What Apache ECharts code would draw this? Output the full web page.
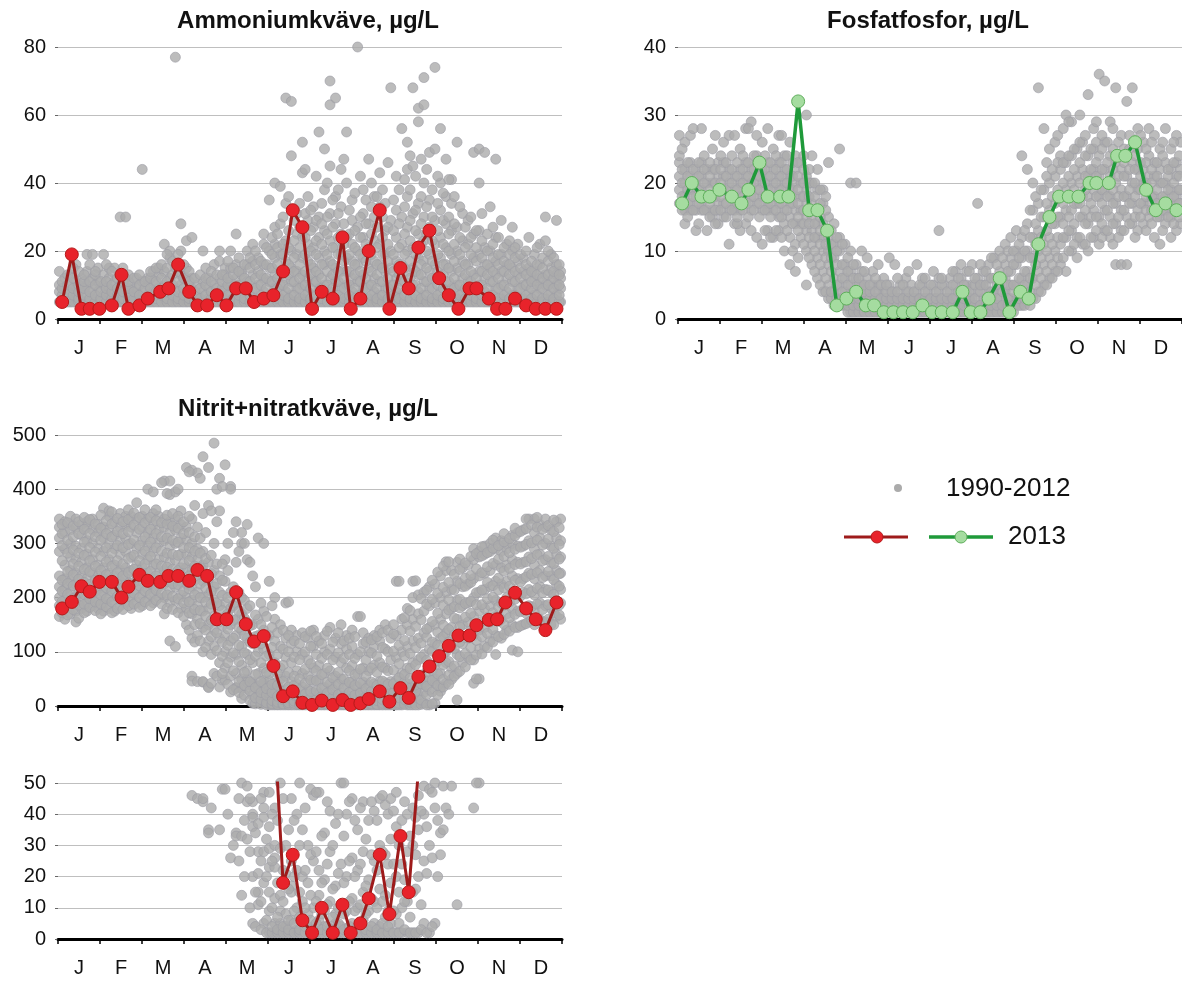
<!DOCTYPE html>
<html>
<head>
<meta charset="utf-8">
<script src="https://cdn.jsdelivr.net/npm/echarts@6/dist/echarts.min.js"></script>
<style>html,body{margin:0;padding:0;background:#fff}#c{width:1182px;height:982px}</style>
</head>
<body>
<div id="c"></div>
<script>
const monthLabels = ['J','F','M','A','M','J','J','A','S','O','N','D'];
const yTicksAmmonium = [0, 80, 20];
const yTicksFosfat = [0, 40, 10];
const yTicksNitrat = [0, 500, 100];
const yTicksNitratLow = [0, 50, 10];

const dates2013 = [3,10,17,23,30,39,46,51,59,65,74,80,87,95,101,108,115,122,129,136,142,149,156,163,170,177,184,191,199,206,212,219,225,233,240,248,254,261,269,276,283,290,298,303,312,318,324,331,339,346,353,361];
const ammonium2013 = [5,19,3,3,3,4,13,3,4,6,8,9,16,8,4,4,7,4,9,9,5,6,7,14,32,27,3,8,6,24,3,6,20,32,3,15,9,21,26,12,7,3,9,9,6,3,3,6,4,3,3,3];
const fosfat2013 = [17,20,18,18,19,18,17,19,23,18,18,18,32,16,16,13,2,3,4,2,2,1,1,1,1,2,1,1,1,4,1,1,3,6,1,4,3,11,15,18,18,18,20,20,20,24,24,26,19,16,17,16];
const nitrat2013 = [180,192,221,211,229,229,200,220,242,231,229,240,240,231,251,240,160,160,210,151,119,129,74,18,27,6,2,10,2,11,2,5,13,27,8,33,15,54,73,92,111,130,130,149,159,160,191,209,180,160,140,191];

// 1990-2012 samples: [day, values...]
const ammoniumHist = [
[1,5,8,10,14],[5,5,6,9,12],[9,5,7,10,13],[13,5,6,8,11,16],[17,5,9,12],[21,5,7,10,14,19],[25,5,6,9,12,19],[29,5,8,11,15],
[33,5,7,10,13,19],[37,5,6,9,12,15],[41,5,8,11,15],[45,5,7,10,13,30],[49,5,6,9,12,30],[53,5,8,10],[57,5,7,9,12],
[61,5,6,8,11,44],[65,5,7,10,12],[69,5,8,11,14],[73,5,6,9,13,15],[77,5,7,10,14,22],[81,5,8,12,18,20],[85,5,6,9,15,77],[89,5,7,10,13,28,20],
[93,5,8,12,15,23],[97,5,6,9,12,24],[101,5,7,10],[105,5,8,11,20],[109,5,6,9,12],[113,5,7,10,16],[117,5,8,12,20,17],
[121,5,6,9,13,15],[125,5,7,11,15,20],[129,5,8,12,16,25],[133,5,6,10,14,13],[137,5,7,11,16,20],[141,5,9,13,17,22],[145,5,6,10,14,18],[149,5,8,12,16,22,25],
[153,5,7,11,15,20,35],[157,5,9,13,18,22,27,40],[161,5,6,10,14,19,28,39],[165,5,8,12,17,23,34,65],[169,5,7,11,15,20,48,64],[173,5,9,14,19,25,31],[177,5,6,10,13,18,24,43,52],
[181,5,8,12,17,22,29,36],[185,5,7,11,15,21,27,33],[189,5,9,13,18,24,30,55],[193,5,6,10,16,20,26,50,38],[197,5,8,12,17,23,31,45,63,70],[201,5,7,11,15,21,28,36,65],[205,5,9,14,19,25,33,44],[209,5,6,10,14,18,24,40,55],
[213,5,8,12,17,22,29,35],[217,5,7,11,16,20,27,80],[221,5,9,13,18,24,31,38],[225,5,6,10,15,21,28,47],[229,5,8,12,17,23,30,36],[233,5,7,11,16,22,33,43],[237,5,9,14,19,26,34],[241,5,6,10,15,20,29,68],
[245,5,8,12,17,24,32,42],[249,5,7,11,16,22,30,56],[253,5,9,14,20,27,36,44,52],[257,5,6,10,15,21,31,45,68],[261,5,8,13,18,25,34,58,62],[265,5,7,11,17,23,30,40,63,71],[269,5,9,14,19,27,35,49],[273,5,6,12,16,22,29,74,50],
[277,5,8,13,18,24,32,40,56],[281,5,7,11,16,21,28,36,47],[285,5,9,14,19,26,34,41],[289,5,6,10,15,20,27,52],[293,5,8,12,17,23,31],[297,5,7,11,16,22,29],[301,5,9,13,18,25,49],
[305,5,6,10,14,19,26,40,50],[309,5,8,12,16,21,49],[313,5,7,11,15,20,33],[317,5,9,13,17,24,47],[321,5,6,10,14,19,29],[325,5,8,12,16,22],[329,5,7,11,15,20,27],[333,5,9,13,17,22],
[337,5,6,10,14,18],[341,5,8,12,15,24],[345,5,7,11,14,19],[349,5,9,12,16,22],[353,5,6,10,13,30,23],[357,5,8,11,15,19],[361,5,7,10,13,16,29],[364,5,9,12,14]
];
const ammoniumHistB = [
[3,5,7,9,11],[7,5,6,8,10,13],[11,5,7,9,12,15],[15,5,6,8,10,14],[19,5,7,9,11,13],[23,5,6,8,11,16],[27,5,7,10,13,14],[31,5,6,8,11],
[35,5,7,9,11,16],[39,5,6,8,10,14],[43,5,7,9,12],[47,5,6,8,11,15],[51,5,7,9,11,13],[55,5,6,8,12],[59,5,7,10,13],
[63,5,6,9,11],[67,5,7,9,12,14],[71,5,6,8,11,15],[75,5,7,9,12,16],[79,5,6,8,11,15,19],[83,5,7,10,13,17],[87,5,6,8,11,14,19],[91,5,7,9,12,16],
[95,5,6,9,11,14],[99,5,7,8,12],[103,5,6,9,13],[107,5,7,10,12,15],[111,5,6,8,11,14],[115,5,7,9,13],[119,5,6,9,11,13],
[123,5,7,10,12,17],[127,5,6,9,13,15],[131,5,7,10,14,18],[135,5,6,9,12,16],[139,5,7,11,15,18],[143,5,6,9,12,16,20],[147,5,7,10,13,17],[151,5,6,9,12,16,21],
[155,5,7,11,15,19,24],[159,5,6,9,12,16,21,25],[163,5,7,10,14,19,22,30],[167,5,6,9,13,16,21,26,36],[171,5,7,11,14,18,23,29],[175,5,6,9,12,16,21,27,34],[179,5,7,10,14,19,24,31,44],
[183,5,6,9,13,16,20,26,32],[187,5,7,11,14,19,23,29,42],[191,5,6,9,12,16,22,28,34],[195,5,7,10,14,19,25,30,40],[199,5,6,9,13,16,21,27,35],[203,5,7,11,14,19,24,31,38],[207,5,6,9,12,17,22,28,47],[211,5,7,10,14,19,25,32],
[215,5,6,9,13,16,21,26,37],[219,5,7,11,14,19,24,30,42],[223,5,6,9,12,17,22,28,35],[227,5,7,10,14,19,25,33,40],[231,5,6,9,13,16,21,27,36],[235,5,7,11,15,19,24,30,38],[239,5,6,9,12,17,22,27,46],
[243,5,7,10,14,19,26,35],[247,5,6,9,13,16,21,28,38],[251,5,7,11,15,19,25,33,41],[255,5,6,9,12,17,23,29,38,48],[259,5,7,10,14,19,26,32,42],[263,5,6,9,13,16,22,28,36,47],[267,5,7,11,15,20,25,33,44],[271,5,6,9,12,17,23,30,38],
[275,5,7,10,14,19,26,34,42],[279,5,6,9,13,16,22,29,37],[283,5,7,11,15,20,25,30,41],[287,5,6,9,12,17,22,28,36],[291,5,7,10,14,19,24,33],[295,5,6,9,13,16,21,27],[299,5,7,11,14,19,24,30],[303,5,6,9,12,17,21,26],
[307,5,7,10,14,18,23,31],[311,5,6,9,13,16,20,25],[315,5,7,11,14,18,22,27],[319,5,6,9,12,16,19,24],[323,5,7,10,14,17,21],[327,5,6,9,13,16,19,23],[331,5,7,11,14,18,21],
[335,5,6,9,12,15,19],[339,5,7,10,13,16,20],[343,5,6,9,11,14,17],[347,5,7,10,13,16,21],[351,5,6,9,12,15,18],[355,5,7,10,13,17,20],[359,5,6,9,12,14,18],[363,5,7,10,13,16]
];
const fosfatHist = [
[1,17,19,21,23,24,27],[5,16,18,20,22,26,14],[9,16,17,19,21,23,27],[13,13,16,18,20,22],[17,16,17,19,21,23,28],[21,13,16,18,20,22],[25,15,16,18,20,22,25],[29,14,16,17,19,21,23],
[33,15,17,19,21,23,26],[37,11,16,18,20,22,27],[41,14,16,17,19,21,27],[45,13,16,18,20,22,25],[49,14,17,19,21,23,28],[53,13,16,18,20,22,29],[57,12,17,19,21,23,24,27],
[61,11,16,18,20,22,26],[65,13,16,17,19,21,23,28],[69,12,16,18,20,22,25],[73,13,15,17,19,21,23,27],[77,10,14,16,18,20,22,24],[81,8,12,15,17,19,21,26],[85,7,11,14,16,18,20,22,24],[89,12,14,16,18,20,23],
[93,5,10,13,15,17,19,21,30],[97,8,11,13,15,17,20,24],[101,6,9,12,14,16,19,22],[105,4,7,10,12,14,17,19],[109,3,5,8,10,12,15,23],[113,2,4,6,9,11,14],[117,2,3,5,7,10,12,25],
[121,2,3,4,6,8,11],[125,1,2,3,5,7,10,20],[129,1,2,4,6,8,20],[133,1,2,3,5,7,10],[137,1,2,3,4,6,9],[141,1,2,3,5,7],[145,1,2,3,4,5,8],[149,1,2,3,4,6],
[153,1,2,3,5,9],[157,1,2,3,4,8],[161,1,2,3,5],[165,1,2,3,4,6],[169,1,2,3,5],[173,1,2,3,4,8],[177,1,2,3,5,6],
[181,1,2,3,4],[185,1,2,3,5,7],[189,1,2,4,6,13],[193,1,2,3,5],[197,1,2,3,4,6],[201,1,2,3,5,7],[205,1,2,3,6,8],[209,1,2,4,5,7],
[213,1,2,3,5,8],[217,1,2,4,6,17],[221,1,2,3,5,7],[225,1,2,3,4,6,8],[229,1,2,4,6,9],[233,1,2,3,5,7,10],[237,1,2,4,6,8,11],[241,2,3,5,7,9,12],
[245,2,3,5,8,10,13],[249,2,4,6,9,12,24],[253,3,5,7,10,14,22],[257,3,6,9,12,16,20],[261,4,7,10,13,17,34],[265,5,8,11,15,19,28],[269,6,9,12,16,20,25],[273,7,10,14,17,21,26],
[277,8,11,15,18,22,24],[281,7,12,16,19,23,30],[285,10,13,16,20,24,29],[289,9,12,17,21,25],[293,11,15,18,22,26],[297,10,14,18,21,24,33],[301,12,16,19,22,25,28],
[305,11,15,18,21,24,36],[309,13,16,19,22,26,35],[313,12,15,18,21,24,29],[317,8,14,17,20,23,34],[321,8,13,16,19,22,27],[325,8,15,18,21,24,32],[329,14,17,20,23,34],[333,13,16,19,22,25,28],
[337,14,17,20,22,26],[341,15,17,19,21,24,28],[345,12,16,18,21,23,27],[349,11,15,17,20,22,25],[353,14,16,18,20,23,28],[357,12,15,17,19,22,25],[361,13,16,18,21,23,27],[364,14,17,19,22,26]
];
const fosfatHistB = [
[3,16,18,20,22,25],[7,15,17,19,21,23],[11,16,18,20,22,28],[15,14,17,19,21,23],[19,16,18,20,22,24],[23,15,17,19,21,23],[27,14,16,18,20,22,27],[31,16,18,20,22,24],
[35,15,17,19,21,23],[39,16,18,20,22,24],[43,14,15,17,19,21,23],[47,16,18,20,22,24],[51,15,17,19,21,23,28],[55,16,18,20,22,24],[59,15,17,19,21,23],
[63,13,16,18,20,22,24],[67,12,15,17,19,21,23],[71,13,16,18,20,22,24],[75,12,15,17,19,21,23,27],[79,13,16,18,20,22,24],[83,10,14,17,19,21,23],[87,9,13,15,17,19,21,23],[91,11,14,16,18,20,22,24],
[95,9,12,14,16,18,20,22],[99,7,10,12,14,16,18,20],[103,5,8,11,13,15,17,19],[107,4,6,9,11,13,16,18],[111,3,4,7,9,11,13],[115,2,3,5,8,10,12],[119,2,3,4,6,8,11],
[123,1,2,3,5,7,9],[127,1,2,3,4,6,8],[131,1,2,3,5,6],[135,1,2,3,4,5,7],[139,1,2,3,4,5],[143,1,2,3,4,6],[147,1,2,3,5],[151,1,2,3,4,5],
[155,1,2,3,4],[159,1,2,3,4,6],[163,1,2,3,5],[167,1,2,3,4,7],[171,1,2,3,4],[175,1,2,3,5],[179,1,2,3,4,6],
[183,1,2,3,5],[187,1,2,3,4],[191,1,2,3,5,6],[195,1,2,3,4],[199,1,2,3,5,7],[203,1,2,4,6],[207,1,2,3,5],[211,1,2,3,4,7],
[215,1,2,3,5,6],[219,1,2,4,5,8],[223,1,2,3,5,7],[227,1,2,3,4,6,9],[231,1,2,3,5,8],[235,1,2,4,6,9],[239,1,2,3,5,7,10],
[243,1,2,4,5,8,10],[247,2,3,4,6,9,11],[251,2,3,5,7,10,13],[255,2,4,6,9,12,16],[259,3,5,8,11,14,18],[263,4,6,9,12,15,19],[267,5,7,10,13,17,21,23],[271,6,8,11,14,18,22],
[275,7,9,12,15,19,23,27],[279,9,12,14,17,20,23,28],[283,10,13,15,18,21,24,29],[287,11,14,17,19,22,25],[291,12,15,17,20,23,26,30],[295,11,14,16,19,21,24,27],[299,12,15,17,20,22,25],[303,13,15,18,21,23,26,29],
[307,12,14,17,19,22,25,27],[311,13,16,18,20,23,26],[315,11,14,17,19,22,25,28],[319,12,15,18,21,24,26],[323,13,16,18,21,23,25],[327,14,17,19,22,25,27],[331,12,15,18,20,22,24],
[335,15,17,19,21,23,27],[339,13,16,18,20,23,25],[343,14,16,18,20,22,26],[347,15,17,19,21,23],[351,13,16,18,20,24,26],[355,15,17,19,21,22],[359,14,16,18,20,23,26],[363,15,17,19,21,24]
];
const nitratHist = [
[1,165,185,200,220,240,285,310,330,345],[5,160,180,195,215,235,260,290,320,340],[9,170,190,210,230,250,275,300,325,350],[13,155,175,200,225,245,270,295,330,345],[17,180,195,215,240,265,290,315,335],[21,175,190,210,235,255,280,305,330,340],[25,185,200,220,245,270,300,325,345],[29,180,195,215,240,260,290,320,335],
[33,175,190,210,235,255,285,310,330,365],[37,180,200,220,245,270,300,325,350,360],[41,175,195,215,240,260,290,315,340],[45,185,205,230,250,280,305,330,355],[49,190,210,235,255,285,310,335,350],[53,180,200,225,250,275,300,330,350],[57,190,215,240,260,290,320,345,375],
[61,185,205,230,255,280,305,330,350],[65,195,215,245,270,295,320,345,400],[69,190,210,235,260,285,310,335,355,395],[73,200,220,245,270,300,325,350],[77,170,200,225,250,275,305,330,345,415],[81,120,190,215,240,265,295,320,340,390,415],[85,110,195,220,245,270,300,325,345,395],[89,180,205,230,255,280,310,335,360],
[93,150,180,200,225,255,280,305,330,440],[97,55,125,170,195,220,250,275,300,345,435,46],[101,45,130,160,185,210,240,270,290,330,430],[105,44,100,145,175,200,230,260,285,355,460,45],[109,35,120,150,180,205,235,265,370,440,34],[113,60,110,140,165,195,220,250,300,485],[117,35,80,125,155,185,210,240,420,360],
[119,48],[121,48,70,100,130,165,190,230,270,445],[125,26,55,90,120,150,180,210,405,400],[129,34,60,95,130,160,190,265,340,33],[133,14,33,50,75,110,140,170,200,320,300],[137,49,32,65,95,125,155,180,335,270,44],[141,5,20,40,44,80,115,150,240,39,36],[145,11,21,37,60,100,130,160,310,28,15],[149,5,18,28,39,70,105,140,175,300,47,42],
[153,2,9,15,36,47,60,95,130,230,29,23],[157,2,5,13,23,42,80,120,160,200,30,26],[161,2,5,9,29,50,70,110,150,14],[165,2,4,8,30,55,90,125,190,21],[169,2,6,15,25,45,80,115,140,17],[173,2,3,10,22,40,65,100,130],[177,2,5,12,20,35,60,95,135],
[181,2,4,8,18,30,55,85,125],[185,2,3,10,25,46,70,110,140],[189,2,6,14,22,47,75,120],[193,2,4,9,19,34,60,100,130],[197,2,3,12,28,41,65,105,145],[201,2,5,8,17,37,55,90,125],[205,2,4,11,24,50,80,115,150],[209,2,3,9,20,40,70,105,130],
[213,2,5,13,26,45,75,110,140],[217,2,4,10,22,35,60,95,165],[221,2,6,15,28,44,70,115,135],[225,2,3,9,19,38,65,100,125],[229,2,5,12,25,41,75,110,130],[233,2,4,16,30,45,80,120,140],[237,2,7,14,27,43,70,105,150],[241,2,5,18,32,45,85,125],
[245,2,8,20,36,47,90,130,230],[249,2,10,24,38,60,100,140,160],[253,2,12,28,40,70,110,150,180],[257,2,15,30,42,80,120,160,200,230],[261,2,20,35,46,85,125,170,205],[265,5,25,40,49,95,135,175,210],[269,2,30,48,70,105,145,185,220],[273,5,42,50,75,115,150,190,225],
[277,27,34,60,90,125,160,200,240],[281,42,80,100,135,170,210,250,266],[285,49,70,110,145,180,215,250],[289,11,60,95,130,160,195,230,265],[293,80,115,150,185,220,255],[297,90,125,155,190,225,260],[301,42,85,130,165,200,235,270,290],
[305,50,105,140,175,210,240,275,285],[309,110,145,180,215,245,280,295],[313,120,155,185,220,250,285,300],[317,95,130,165,195,230,260,290,310],[321,125,160,190,225,255,285,305],[325,140,170,200,230,260,290,300],[329,103,150,180,210,240,270,300,315],[333,100,145,175,205,235,265,295,320],
[337,150,180,210,235,265,295,325],[341,155,185,215,245,275,305,345],[345,150,175,205,235,260,290,320,345],[349,160,190,220,250,280,310,335],[353,155,185,215,240,270,300,330,345],[357,150,180,210,240,265,295,325],[361,165,195,225,250,280,310,340],[364,160,190,215,245,275,305,345]
];
const nitratHistB = [
[3,172,193,212,232,268,296,318,335],[7,168,188,206,226,248,282,306,338],[11,178,198,222,242,262,288,312,332],[15,162,186,208,234,258,282,318,340],[19,172,188,206,228,252,278,302,326,348],[23,182,198,224,248,268,292,318,344],[27,176,192,212,232,258,284,312,336],[31,170,188,205,228,250,276,306,328,352],
[35,183,198,218,242,266,292,318,342],[39,172,192,212,232,258,282,312,336,358],[43,180,202,224,246,268,296,322,346],[47,178,196,218,240,262,292,318,340],[51,185,202,226,246,272,298,322,344,362],[55,188,208,228,252,278,306,334,356],[59,182,200,222,246,268,296,326,348],
[63,192,212,236,262,286,312,338,362],[67,185,206,226,248,276,302,326,348],[71,195,214,240,262,292,318,342,362],[75,188,208,232,258,286,312,338,412],[79,180,205,230,256,282,310,336,352,392],[83,178,202,226,252,280,306,332,355],[87,172,198,224,250,278,302,328,350,400],[91,165,190,212,238,262,292,318,340],
[95,140,172,192,216,240,268,292,320,350,432],[99,118,150,178,205,232,258,286,312,370],[103,120,152,176,200,225,255,282,310,420],[107,108,140,166,192,218,245,272,320],[111,42,95,128,158,188,212,244,278,360],[115,55,102,135,162,190,226,262,340,400],[119,60,92,118,148,176,204,232,262,405],
[123,40,80,112,142,170,200,250,300],[127,30,65,98,125,158,185,220,320],[131,25,45,82,112,145,175,210,285],[135,20,38,62,98,130,162,195,300],[139,10,28,45,85,118,148,185,265],[143,4,15,34,58,92,128,168,220],[147,3,12,25,45,80,115,150,190],
[151,2,6,20,32,62,92,128,165],[155,2,4,10,25,40,72,108,145,185],[159,2,3,7,18,38,60,95,135],[163,2,4,12,22,45,75,105,140],[167,2,3,6,16,35,62,100,130,192],[171,2,5,9,20,38,55,90,120],[175,2,3,7,15,30,50,85,115],[179,2,4,10,22,42,68,100,128],
[183,2,3,6,14,27,48,78,110,138],[187,2,5,12,28,47,65,95,128],[191,2,3,8,18,33,58,88,115],[195,2,4,11,24,44,70,95,138],[199,2,3,7,16,30,52,85,118],[203,2,5,10,21,40,62,98,135],[207,2,3,8,18,33,50,88,120],[211,2,4,12,25,44,65,95,125],
[215,2,3,9,20,38,58,88,128],[219,2,5,11,24,42,68,100,165],[223,2,3,8,17,32,55,85,118],[227,2,4,13,27,44,70,98,122],[231,2,3,10,22,38,62,92,128],[235,2,5,12,28,46,72,108,135],[239,2,4,9,24,40,65,100,140],
[243,2,9,24,41,66,101,133,150],[247,2,5,15,30,52,78,112,230],[251,3,12,19,44,58,92,121,163],[255,2,7,33,51,69,97,138,176],[259,2,16,27,39,76,108,147,231],[263,3,11,41,57,90,116,159,198],[267,2,21,36,63,84,127,142,188,214],[271,4,26,47,66,101,118,156,197,232],
[275,20,38,59,83,112,136,171,208,247],[279,35,49,76,96,128,149,186,219,258],[283,40,57,82,118,141,177,196,228,266],[287,55,74,106,131,162,183,214,243],[291,64,91,118,146,181,197,226,252,271],[295,72,97,126,164,189,221,236,264],[299,85,108,139,171,193,228,241,276],[303,50,94,121,148,187,209,253,281],
[307,96,128,156,187,214,246,277,294],[311,108,134,163,198,228,257,283],[315,118,141,172,201,222,263,291,306],[319,128,156,183,214,236,271,296],[323,132,151,186,218,249,276,303,318],[327,138,163,192,221,254,283,309],[331,145,169,197,232,261,289,314,328],
[335,148,174,203,229,262,293,322],[339,152,171,207,238,266,298,327,345],[343,158,183,211,243,272,301,334],[347,162,188,217,246,279,306,330,348],[351,155,178,209,237,268,297,326],[355,160,187,214,248,276,308,333],[359,150,172,206,233,263,291,322,343],[363,168,186,221,244,271,298,329]
];

const FONT = '"Liberation Sans", Arial, sans-serif';
const GRAY = '#ababab', GRAY_B = '#9d9da5';
const RED = '#e8232b', RED_B = '#b51a1a', RED_L = '#9e1b1b';
const GREEN_F = '#a5dca0', GREEN_B = '#5fae5c', GREEN_L = '#1f9a3a';

function expand(cols){ const out=[]; cols.forEach(c=>{ for(let i=1;i<c.length;i++) out.push([c[0], c[i]]); }); return out; }
function pair(days, vals){ return vals.map((v,i)=>[days[i], v]); }

const M = 365/12;
const tickDays = monthLabels.map((m,i)=>i*M).concat([365]);
const labelDays = monthLabels.map((m,i)=>(i+0.5)*M);

const grids = [
  {left:58, top:47, width:504, height:272},
  {left:678, top:47, width:504, height:272},
  {left:58, top:435, width:504, height:271},
  {left:58, top:783, width:504, height:156}
];
const yDefs = [yTicksAmmonium, yTicksFosfat, yTicksNitrat, yTicksNitratLow];

const xAxes = grids.map((g,i)=>({
  type:'value', gridIndex:i, min:0, max:365,
  axisLine:{show:true, onZero:false, lineStyle:{color:'#000', width:3}},
  axisTick:{show:true, customValues:tickDays, length:5, lineStyle:{color:'#000', width:1.5}},
  axisLabel:{show:true, customValues:labelDays, formatter:(v)=>monthLabels[Math.floor(v/M)], fontSize:20, color:'#111', margin:19, fontFamily:FONT},
  splitLine:{show:false}
}));
const yAxes = yDefs.map((d,i)=>({
  type:'value', gridIndex:i, min:d[0], max:d[1], interval:d[2],
  axisLine:{show:false},
  axisTick:{show:true, length:3, lineStyle:{color:'#666'}},
  axisLabel:{fontSize:20, color:'#111', margin:12, fontFamily:FONT},
  splitLine:{show:true, lineStyle:{color:'#bfbfbf', width:1}}
}));

function grayS(i, data){ return {type:'scatter', xAxisIndex:i, yAxisIndex:i, data, symbol:'circle', symbolSize:10, clip:true, z:2,
  itemStyle:{color:GRAY, borderColor:GRAY_B, borderWidth:0.8}, silent:true}; }
function lineS(i, data, red){ return {type:'line', xAxisIndex:i, yAxisIndex:i, data, symbol:'circle', symbolSize:13, clip:true, z:5,
  lineStyle:{color: red?RED_L:GREEN_L, width: red?3:3.5},
  itemStyle:{color: red?RED:GREEN_F, borderColor: red?RED_B:GREEN_B, borderWidth:1}}; }

const ammG = expand(ammoniumHist.concat(ammoniumHistB));
const fosG = expand(fosfatHist.concat(fosfatHistB));
const nitG = expand(nitratHist.concat(nitratHistB));

const titleFont = 'bold 24px ' + FONT;
const legFont = '26px ' + FONT;

const option = {
  animation:false,
  backgroundColor:'#fff',
  grid: grids,
  xAxis: xAxes,
  yAxis: yAxes,
  series: [
    grayS(0, ammG), lineS(0, pair(dates2013, ammonium2013), true),
    grayS(1, fosG), lineS(1, pair(dates2013, fosfat2013), false),
    grayS(2, nitG), lineS(2, pair(dates2013, nitrat2013), true),
    grayS(3, nitG), lineS(3, pair(dates2013, nitrat2013), true)
  ],
  graphic: [
    {type:'text', x:308, y:21, style:{text:'Ammoniumkväve, µg/L', font:titleFont, fill:'#111', textAlign:'center', textVerticalAlign:'middle'}},
    {type:'text', x:928, y:21, style:{text:'Fosfatfosfor, µg/L', font:titleFont, fill:'#111', textAlign:'center', textVerticalAlign:'middle'}},
    {type:'text', x:308, y:409, style:{text:'Nitrit+nitratkväve, µg/L', font:titleFont, fill:'#111', textAlign:'center', textVerticalAlign:'middle'}},
    {type:'circle', shape:{cx:898, cy:488, r:4}, style:{fill:GRAY}},
    {type:'text', x:946, y:489, style:{text:'1990-2012', font:legFont, fill:'#111', textAlign:'left', textVerticalAlign:'middle'}},
    {type:'line', shape:{x1:844, y1:537, x2:908, y2:537}, style:{stroke:RED_L, lineWidth:3}},
    {type:'circle', shape:{cx:877, cy:537, r:6}, style:{fill:RED, stroke:RED_B, lineWidth:1}},
    {type:'line', shape:{x1:929, y1:537, x2:993, y2:537}, style:{stroke:GREEN_L, lineWidth:3.5}},
    {type:'circle', shape:{cx:961, cy:537, r:6}, style:{fill:GREEN_F, stroke:GREEN_B, lineWidth:1}},
    {type:'text', x:1008, y:537, style:{text:'2013', font:legFont, fill:'#111', textAlign:'left', textVerticalAlign:'middle'}}
  ]
};
const chart = echarts.init(document.getElementById('c'), null, {renderer:'canvas'});
chart.setOption(option);
</script>
</body>
</html>
